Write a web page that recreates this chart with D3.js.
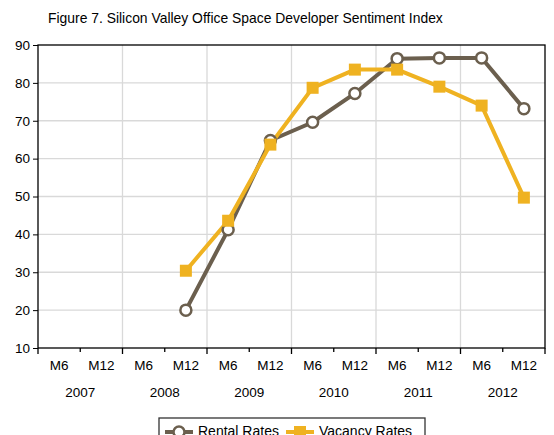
<!DOCTYPE html>
<html>
<head>
<meta charset="utf-8">
<script src="https://cdn.jsdelivr.net/npm/d3@7"></script>
<style>
  body { margin: 0; background: #fff; }
  text { font-family: "Liberation Sans", Arial, sans-serif; fill: #000; }
</style>
</head>
<body>
<div id="chart"></div>
<script>
// Chart data
var years = ["2007", "2008", "2009", "2010", "2011", "2012"];
var halves = ["M6", "M12"];
var periods = [];
years.forEach(function(y) { halves.forEach(function(h) { periods.push(y + " " + h); }); });

var rentalRates  = [null, null, null, 20, 41.2, 64.8, 69.6, 77.2, 86.4, 86.6, 86.6, 73.2];
var vacancyRates = [null, null, null, 30.4, 43.6, 63.7, 78.7, 83.5, 83.5, 79, 74, 49.7];
var yTicks = [10, 20, 30, 40, 50, 60, 70, 80, 90];

// Set the dimensions
var W = 554, H = 435;
var margin = {top: 45, right: 9, bottom: 87, left: 38},
    width = W - margin.left - margin.right,
    height = H - margin.top - margin.bottom;

var x = d3.scaleBand().domain(periods).range([0, width]);
var y = d3.scaleLinear().domain([10, 90]).range([height, 0]);

var svg = d3.select("#chart")
    .append("svg")
        .attr("width", W)
        .attr("height", H)
    .append("g")
        .attr("transform", "translate(" + margin.left + "," + margin.top + ")");

// title
svg.append("text")
    .attr("x", 10)
    .attr("y", -22)
    .style("font-size", "13.9px")
    .text("Figure 7. Silicon Valley Office Space Developer Sentiment Index");

// horizontal gridlines
svg.selectAll(".hgrid")
    .data(yTicks.slice(1, -1))
    .enter().append("line")
        .attr("x1", 0).attr("x2", width)
        .attr("y1", function(d) { return y(d); })
        .attr("y2", function(d) { return y(d); })
        .attr("stroke", "#d9d9d9").attr("stroke-width", 1.3);

// vertical gridlines at year boundaries
svg.selectAll(".vgrid")
    .data(years.slice(1))
    .enter().append("line")
        .attr("x1", function(d) { return x(d + " M6"); })
        .attr("x2", function(d) { return x(d + " M6"); })
        .attr("y1", 0).attr("y2", height)
        .attr("stroke", "#d9d9d9").attr("stroke-width", 1.3);

// frame
svg.append("rect")
    .attr("width", width).attr("height", height)
    .attr("fill", "none").attr("stroke", "#000").attr("stroke-width", 1.3);

// y axis
var yAxis = d3.axisLeft(y).tickValues(yTicks).tickSize(5).tickPadding(3);
var gy = svg.append("g").call(yAxis);
gy.select(".domain").remove();
gy.selectAll("line").attr("stroke", "#000");
gy.selectAll("text").style("font-size", "13.5px").style("font-family", "Liberation Sans, Arial, sans-serif");

// x axis: tick marks at each category boundary
var bounds = d3.range(periods.length + 1).map(function(i) { return i * x.step(); });
svg.selectAll(".xtick")
    .data(bounds)
    .enter().append("line")
        .attr("x1", function(d) { return d; })
        .attr("x2", function(d) { return d; })
        .attr("y1", height)
        .attr("y2", function(d, i) { return height + (i % 2 === 0 ? 6 : 4); })
        .attr("stroke", "#000").attr("stroke-width", 1.3);

svg.selectAll(".xlab")
    .data(periods)
    .enter().append("text")
        .attr("x", function(d) { return x(d) + x.bandwidth() / 2; })
        .attr("y", height + 22)
        .attr("text-anchor", "middle")
        .style("font-size", "13.5px")
        .text(function(d) { return d.split(" ")[1]; });

svg.selectAll(".ylab")
    .data(years)
    .enter().append("text")
        .attr("x", function(d) { return x(d + " M12"); })
        .attr("y", height + 49)
        .attr("text-anchor", "middle")
        .style("font-size", "13.5px")
        .text(function(d) { return d; });

// series
var rentalColor = "#6b5f4e", vacancyColor = "#efb221";
var line = d3.line()
    .defined(function(d) { return d.v !== null; })
    .x(function(d) { return x(d.p) + x.bandwidth() / 2; })
    .y(function(d) { return y(d.v); });

var rental = periods.map(function(p, i) { return {p: p, v: rentalRates[i]}; });
var vacancy = periods.map(function(p, i) { return {p: p, v: vacancyRates[i]}; });

svg.append("path").datum(rental)
    .attr("d", line).attr("fill", "none")
    .attr("stroke", rentalColor).attr("stroke-width", 4);

svg.append("path").datum(vacancy)
    .attr("d", line).attr("fill", "none")
    .attr("stroke", vacancyColor).attr("stroke-width", 4);

svg.selectAll(".rpt")
    .data(rental.filter(function(d) { return d.v !== null; }))
    .enter().append("circle")
        .attr("cx", function(d) { return x(d.p) + x.bandwidth() / 2; })
        .attr("cy", function(d) { return y(d.v); })
        .attr("r", 5.5)
        .attr("fill", "#fff").attr("stroke", rentalColor).attr("stroke-width", 2.5);

svg.selectAll(".vpt")
    .data(vacancy.filter(function(d) { return d.v !== null; }))
    .enter().append("rect")
        .attr("x", function(d) { return x(d.p) + x.bandwidth() / 2 - 6; })
        .attr("y", function(d) { return y(d.v) - 6; })
        .attr("width", 12).attr("height", 12)
        .attr("fill", vacancyColor);

// legend
var lg = svg.append("g").attr("transform", "translate(" + (159 - margin.left) + "," + (418 - margin.top) + ")");
lg.append("rect")
    .attr("width", 266).attr("height", 30)
    .attr("fill", "#fff").attr("stroke", "#333").attr("stroke-width", 1.3);
lg.append("line").attr("x1", 6).attr("x2", 34).attr("y1", 14).attr("y2", 14)
    .attr("stroke", rentalColor).attr("stroke-width", 4);
lg.append("circle").attr("cx", 20).attr("cy", 14).attr("r", 5.5)
    .attr("fill", "#fff").attr("stroke", rentalColor).attr("stroke-width", 2.5);
lg.append("text").attr("x", 39).attr("y", 18).style("font-size", "14px").text("Rental Rates");
lg.append("line").attr("x1", 127).attr("x2", 155).attr("y1", 14).attr("y2", 14)
    .attr("stroke", vacancyColor).attr("stroke-width", 4);
lg.append("rect").attr("x", 135).attr("y", 8).attr("width", 12).attr("height", 12)
    .attr("fill", vacancyColor);
lg.append("text").attr("x", 160).attr("y", 18).style("font-size", "14px").text("Vacancy Rates");
</script>
</body>
</html>
